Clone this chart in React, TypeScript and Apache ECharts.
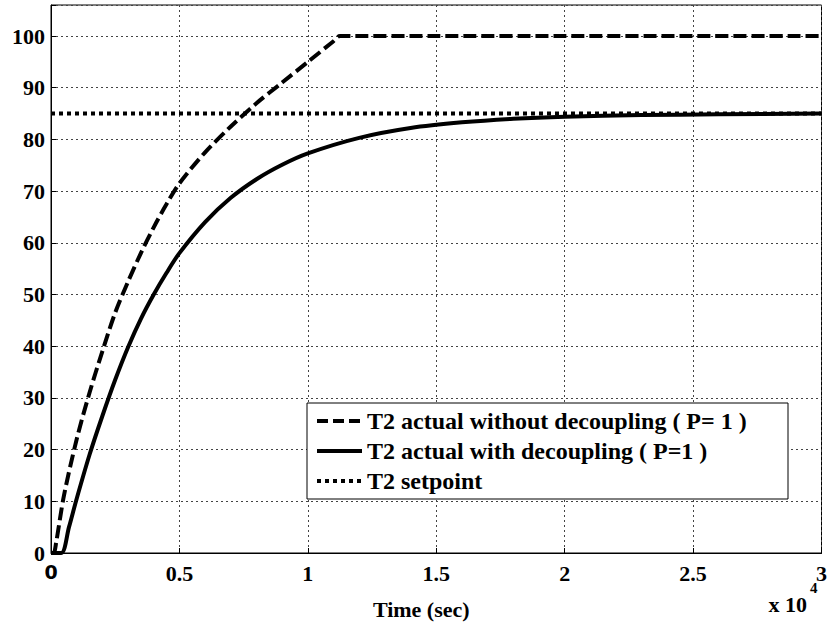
import React, { useEffect, useRef } from "react";
import * as echarts from "echarts";

// time axis values are in units of 1e4 seconds
const dashedName = "T2 actual without decoupling ( P= 1 )";
const solidName = "T2 actual with decoupling ( P=1 )";
const setpointName = "T2 setpoint";

const tDashed = [0, 0.01, 0.02, 0.05, 0.1, 0.15, 0.2, 0.25, 0.3, 0.35, 0.4, 0.45, 0.5, 0.6, 0.7, 0.8, 0.9, 1.0, 1.1, 1.125, 1.5, 2.0, 2.5, 3.0];
const yDashed = [0, 0, 2, 11, 22, 31, 39, 46.5, 52.5, 58, 63, 67.5, 71.5, 77.5, 82.5, 87, 91, 95, 99, 100, 100, 100, 100, 100];

const tSolid = [0, 0.04, 0.07, 0.1, 0.15, 0.2, 0.25, 0.3, 0.35, 0.4, 0.45, 0.5, 0.6, 0.7, 0.8, 0.9, 1.0, 1.2, 1.4, 1.6, 1.8, 2.0, 2.3, 2.6, 3.0];
const ySolid = [0, 0, 5, 10.5, 19, 26.5, 33.5, 39.8, 45.3, 50, 54.2, 58, 64, 68.7, 72.3, 75.1, 77.3, 80.3, 82.2, 83.3, 84.0, 84.4, 84.7, 84.85, 85];

const tSetpoint = [0, 3];
const ySetpoint = [85, 85];

const xTicks = [0, 0.5, 1, 1.5, 2, 2.5, 3];

const SERIF = "Liberation Serif";

export default function App() {
  const ref = useRef<HTMLDivElement>(null);
  useEffect(() => {
    if (!ref.current) return;
    const chart = echarts.init(ref.current, undefined, { renderer: "svg" });
    const pair = (t: number[], y: number[]) => t.map((v, i) => [v, y[i]]);
    const legendRows = [
      { name: dashedName, dash: [11, 5] as number[] | null },
      { name: solidName, dash: null },
      { name: setpointName, dash: [4, 4] },
    ];
    chart.setOption({
      animation: false,
      backgroundColor: "#fff",
      grid: {
        left: 51,
        right: 8,
        top: 5,
        bottom: 72,
        show: true,
        borderColor: "#000",
        borderWidth: 1,
        backgroundColor: "transparent",
      },
      xAxis: {
        type: "value",
        min: 0,
        max: 3,
        interval: 0.5,
        name: "Time (sec)",
        nameLocation: "middle",
        nameGap: 45,
        nameTextStyle: { fontFamily: SERIF, fontWeight: "bold", fontSize: 22, color: "#000", padding: [0, 30, 0, 0] },
        axisLine: { show: true, lineStyle: { color: "#000", width: 1 } },
        axisTick: { show: true, inside: true, length: 5, lineStyle: { color: "#000" } },
        axisLabel: {
          margin: 9,
          fontFamily: SERIF,
          fontWeight: "bold",
          fontSize: 22,
          color: "#000",
          formatter: (v: number) => (xTicks.includes(v) ? (v === 0 ? "{s|0}" : String(v)) : ""),
          rich: { s: { fontFamily: "DejaVu Sans", fontWeight: "bold", fontSize: 19, color: "#000" } },
        },
        splitLine: { show: true, lineStyle: { color: "#444", width: 1, type: [2, 3] } },
      },
      yAxis: {
        type: "value",
        min: 0,
        max: 106,
        interval: 10,
        axisLine: { show: true, lineStyle: { color: "#000", width: 1 } },
        axisTick: { show: true, inside: true, length: 5, lineStyle: { color: "#000" } },
        axisLabel: {
          margin: 6,
          fontFamily: SERIF,
          fontWeight: "bold",
          fontSize: 22,
          color: "#000",
          formatter: (v: number) => (v % 10 === 0 ? String(v) : ""),
        },
        splitLine: { show: true, lineStyle: { color: "#444", width: 1, type: [2, 3] } },
      },
      series: [
        {
          name: dashedName,
          type: "line",
          data: pair(tDashed, yDashed),
          showSymbol: false,
          symbol: "none",
          smooth: 0.3,
          lineStyle: { color: "#000", width: 4, type: [13, 5] },
          z: 3,
        },
        {
          name: solidName,
          type: "line",
          data: pair(tSolid, ySolid),
          showSymbol: false,
          symbol: "none",
          smooth: 0.3,
          lineStyle: { color: "#000", width: 4, type: "solid" },
          z: 3,
        },
        {
          name: setpointName,
          type: "line",
          data: pair(tSetpoint, ySetpoint),
          showSymbol: false,
          symbol: "none",
          lineStyle: { color: "#000", width: 4, type: [4, 4] },
          z: 3,
        },
      ],
      graphic: [
        {
          type: "rect",
          z: 100,
          shape: { x: 307, y: 403, width: 481, height: 96 },
          style: { fill: "#fff", stroke: "#000", lineWidth: 1 },
        },
        ...legendRows.flatMap((r, i) => [
          {
            type: "line",
            z: 101,
            shape: { x1: 317, y1: 421 + i * 30, x2: 362, y2: 421 + i * 30 },
            style: { stroke: "#000", lineWidth: 4, lineDash: r.dash },
          },
          {
            type: "text",
            z: 101,
            x: 367,
            y: 421 + i * 30,
            style: {
              text: r.name,
              fontFamily: SERIF,
              fontWeight: "bold",
              fontSize: 24,
              fill: "#000",
              textVerticalAlign: "middle",
              textAlign: "left",
            },
          },
        ]),
        {
          type: "text",
          x: 807,
          y: 604,
          z: 100,
          style: {
            text: "x 10",
            fontFamily: SERIF,
            fontWeight: "bold",
            fontSize: 22,
            fill: "#000",
            textAlign: "right",
            textVerticalAlign: "middle",
          },
        },
        {
          type: "text",
          x: 810,
          y: 588,
          z: 100,
          style: {
            text: "4",
            fontFamily: SERIF,
            fontWeight: "bold",
            fontSize: 15,
            fill: "#000",
            textAlign: "left",
            textVerticalAlign: "middle",
          },
        },
      ],
    });
    return () => chart.dispose();
  }, []);
  return <div ref={ref} style={{ position: "absolute", left: 0, top: 0, width: 830, height: 625 }} />;
}
